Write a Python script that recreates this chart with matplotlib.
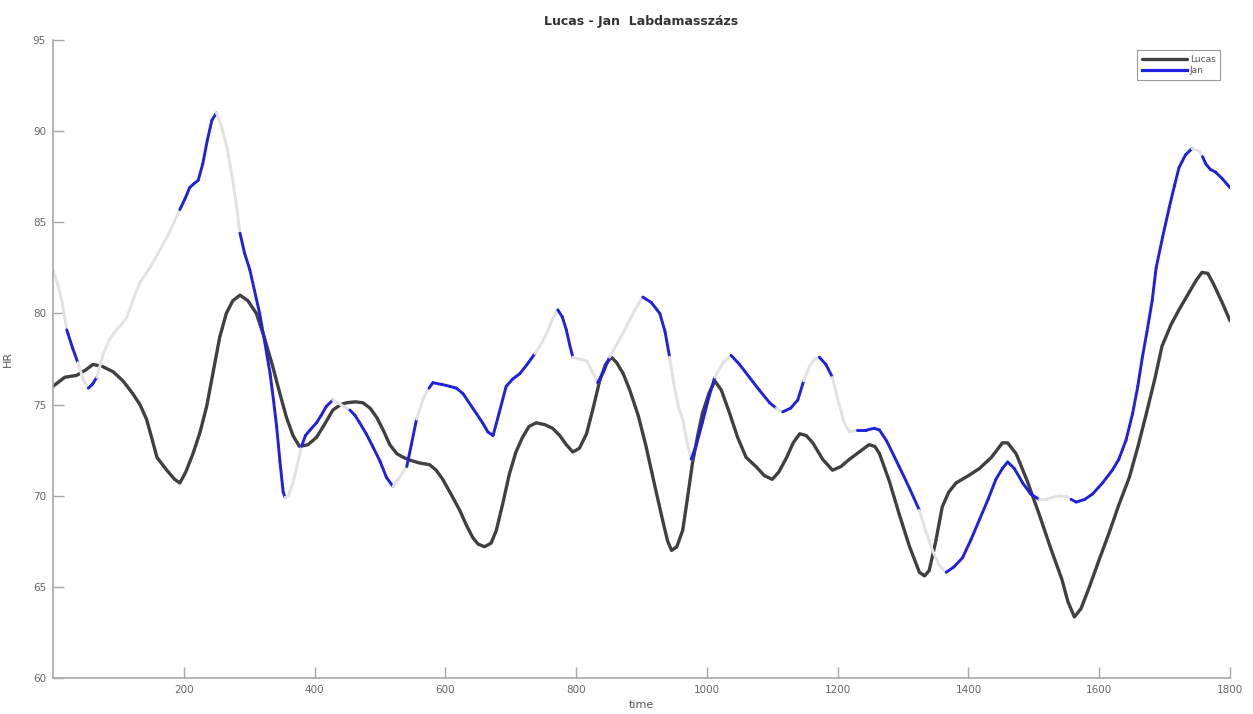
import numpy as np
import matplotlib
matplotlib.use("Agg")
import matplotlib.pyplot as plt
from matplotlib.collections import LineCollection

# heart rate readings (time, HR)
lucas_t = [0, 18, 36, 50, 61, 75, 92, 107, 122, 133, 143, 150, 159, 174, 186, 194, 203, 214, 225, 235,
           245, 255, 265, 275, 286, 298, 311, 323, 336, 347, 357, 367, 377, 390, 403, 415, 428, 440, 449, 462,
           474, 485, 495, 505, 515, 526, 536, 546, 560, 576, 586, 596, 610, 622, 632, 642, 650, 660, 670, 678,
           688, 698, 708, 718, 728, 739, 752, 764, 775, 785, 795, 805, 816, 826, 836, 845, 854, 862, 872, 882,
           895, 907, 920, 932, 940, 946, 954, 963, 970, 978, 986, 993, 1003, 1012, 1022, 1035, 1047, 1060, 1075, 1088,
           1100, 1110, 1122, 1132, 1142, 1152, 1162, 1177, 1192, 1205, 1218, 1233, 1248, 1257, 1264, 1279, 1294, 1310, 1325, 1333,
           1340, 1350, 1360, 1370, 1381, 1400, 1417, 1435, 1452, 1460, 1473, 1490, 1508, 1525, 1543, 1552, 1562, 1572, 1585, 1600,
           1615, 1630, 1646, 1660, 1672, 1685, 1696, 1710, 1722, 1735, 1748, 1757, 1766, 1775, 1788, 1800]
lucas_hr = [76.0, 76.5, 76.6, 76.9, 77.2, 77.1, 76.8, 76.3, 75.6, 75.0, 74.2, 73.3, 72.1, 71.4, 70.9, 70.7, 71.3, 72.3, 73.5, 74.9,
            76.8, 78.7, 80.0, 80.7, 81.0, 80.7, 80.0, 78.7, 77.1, 75.6, 74.3, 73.3, 72.7, 72.8, 73.2, 73.9, 74.7, 75.0, 75.1, 75.15,
            75.1, 74.8, 74.3, 73.6, 72.8, 72.3, 72.1, 71.95, 71.8, 71.7, 71.4, 70.9, 70.0, 69.2, 68.4, 67.7, 67.35, 67.2, 67.4, 68.1,
            69.6, 71.2, 72.4, 73.2, 73.8, 74.0, 73.9, 73.7, 73.3, 72.8, 72.4, 72.6, 73.4, 74.8, 76.3, 77.2, 77.6, 77.3, 76.7, 75.8,
            74.4, 72.7, 70.6, 68.7, 67.5, 67.0, 67.2, 68.1, 69.8, 71.8, 73.3, 74.5, 75.6, 76.3, 75.8, 74.5, 73.2, 72.1, 71.6, 71.1,
            70.9, 71.3, 72.1, 72.9, 73.4, 73.3, 72.9, 72.0, 71.4, 71.6, 72.0, 72.4, 72.8, 72.7, 72.3, 70.8, 69.0, 67.2, 65.8, 65.6,
            65.9, 67.5, 69.4, 70.2, 70.7, 71.1, 71.5, 72.1, 72.9, 72.9, 72.3, 70.8, 69.0, 67.2, 65.4, 64.2, 63.35, 63.8, 65.0, 66.5,
            67.95, 69.5, 71.0, 72.8, 74.5, 76.4, 78.2, 79.4, 80.2, 81.0, 81.8, 82.25, 82.2, 81.6, 80.6, 79.6]

jan_t = [0, 8, 14, 21, 30, 38, 46, 54, 60, 67, 77, 87, 97, 105, 113, 123, 133, 148, 164, 180,
         194, 202, 209, 215, 222, 229, 236, 243, 250, 258, 266, 274, 281, 286, 293, 301, 316, 324, 332, 337,
         342, 347, 352, 355, 360, 367, 373, 380, 386, 393, 403, 410, 418, 428, 440, 454, 462, 469, 479, 489,
         500, 510, 520, 530, 541, 548, 556, 566, 575, 581, 595, 607, 617, 627, 642, 657, 665, 673, 682, 693,
         703, 714, 725, 737, 746, 755, 764, 772, 779, 785, 790, 795, 805, 816, 825, 833, 842, 851, 864, 877,
         890, 902, 915, 928, 936, 943, 950, 957, 963, 970, 976, 984, 993, 1003, 1012, 1025, 1037, 1050, 1065, 1080,
         1096, 1106, 1116, 1128, 1139, 1148, 1157, 1165, 1172, 1182, 1192, 1200, 1210, 1218, 1230, 1244, 1256, 1264, 1275, 1294,
         1310, 1325, 1335, 1345, 1355, 1366, 1378, 1391, 1404, 1417, 1430, 1442, 1452, 1460, 1470, 1483, 1495, 1508, 1518, 1528,
         1540, 1549, 1557, 1565, 1578, 1590, 1605, 1620, 1630, 1641, 1651, 1659, 1666, 1673, 1681, 1687, 1697, 1707, 1715, 1722,
         1732, 1742, 1753, 1758, 1763, 1770, 1778, 1788, 1800]
jan_hr = [82.4, 81.5, 80.6, 79.1, 78.1, 77.3, 76.4, 75.9, 76.1, 76.5, 77.8, 78.6, 79.1, 79.4, 79.8, 80.8, 81.7, 82.5, 83.5, 84.6,
          85.7, 86.3, 86.9, 87.1, 87.3, 88.2, 89.5, 90.6, 91.0, 90.2, 89.1, 87.5, 85.8, 84.4, 83.3, 82.4, 80.0, 78.4, 76.7, 75.3,
          73.8, 71.9, 70.2, 69.9, 70.0, 70.7, 71.6, 72.7, 73.3, 73.6, 74.0, 74.4, 74.9, 75.25, 75.0, 74.7, 74.4, 74.0, 73.4, 72.7,
          71.9, 71.0, 70.5, 71.0, 71.6, 72.8, 74.2, 75.3, 75.9, 76.2, 76.1, 76.0, 75.9, 75.6, 74.8, 74.0, 73.5, 73.3, 74.5, 76.0,
          76.4, 76.7, 77.2, 77.8, 78.3, 78.9, 79.7, 80.2, 79.8, 79.1, 78.3, 77.6, 77.5, 77.4, 76.8, 76.2, 76.8, 77.6, 78.4, 79.3,
          80.2, 80.9, 80.6, 80.0, 79.0, 77.6, 76.0, 74.8, 74.2, 72.9, 72.0, 72.8, 74.0, 75.4, 76.5, 77.3, 77.7, 77.2, 76.5, 75.8,
          75.1, 74.8, 74.6, 74.8, 75.25, 76.3, 77.1, 77.5, 77.6, 77.2, 76.5, 75.3, 74.0, 73.5, 73.6, 73.6, 73.7, 73.6, 73.0, 71.6,
          70.4, 69.2, 68.0, 67.0, 66.2, 65.8, 66.1, 66.6, 67.6, 68.7, 69.8, 70.9, 71.5, 71.85, 71.5, 70.7, 70.1, 69.8, 69.8, 69.9,
          70.0, 70.0, 69.8, 69.65, 69.8, 70.1, 70.7, 71.4, 72.0, 73.05, 74.5, 76.0, 77.6, 79.0, 80.7, 82.5, 84.2, 85.8, 87.0, 88.0,
          88.7, 89.05, 88.9, 88.6, 88.2, 87.9, 87.75, 87.4, 86.9]

# stretches of the Jan trace that show up washed out (light gray)
jan_faded = [(0, 20), (40, 50), (70, 188), (252, 285), (356, 378), (430, 452), (521, 540), (558, 576),
             (737, 770), (795, 830), (851, 900), (945, 975), (1015, 1035), (1105, 1115), (1145, 1170),
             (1192, 1225), (1325, 1366), (1508, 1555), (1745, 1760)]

fig = plt.figure(figsize=(12.53, 7.14), dpi=100)
ax = fig.add_axes([53 / 1253, 36 / 714, 1177 / 1253, 638 / 714])

ax.plot(lucas_t, lucas_hr, color="#404040", lw=2.4, label="Lucas", solid_capstyle="round")

# Jan: per-segment colour
pts = np.column_stack([jan_t, jan_hr])
segs = np.stack([pts[:-1], pts[1:]], axis=1)
cols = []
for a, b in zip(jan_t[:-1], jan_t[1:]):
    mid = (a + b) / 2
    faded = any(lo <= mid <= hi for lo, hi in jan_faded)
    cols.append("#e2e2e2" if faded else "#2020e0")
lc = LineCollection(segs, colors=cols, linewidths=2.1, capstyle="round", joinstyle="round")
ax.add_collection(lc)
ax.plot([], [], color="#2020e0", lw=2.3, label="Jan")

ax.set_xlim(0, 1800)
ax.set_ylim(60, 95)
ax.set_xticks(range(200, 1801, 200))
ax.set_yticks(range(60, 96, 5))

for s in ["top", "right"]:
    ax.spines[s].set_visible(False)
for s in ["left", "bottom"]:
    ax.spines[s].set_color("#a8a8a8")
    ax.spines[s].set_linewidth(1.2)
ax.tick_params(direction="in", length=8, width=1, color="#a8a8a8", labelsize=7.5,
               labelcolor="#666666", pad=5)

ax.set_title("Lucas - Jan  Labdamasszázs", fontsize=9, fontweight="bold", color="#333333", pad=11)
ax.set_xlabel("time", fontsize=8, color="#555555", labelpad=4)
ax.set_ylabel("HR", fontsize=8, color="#555555", labelpad=14)

leg = ax.legend(loc="upper right", bbox_to_anchor=(0.9915, 0.984), borderaxespad=0, fontsize=6.5,
                fancybox=False, framealpha=1, handlelength=5, handletextpad=0.3, labelspacing=0.3,
                borderpad=0.5)
leg.get_frame().set_edgecolor("#999999")
leg.get_frame().set_linewidth(0.8)
for t in leg.get_texts():
    t.set_color("#555555")

fig.savefig("out.png", dpi=100)
